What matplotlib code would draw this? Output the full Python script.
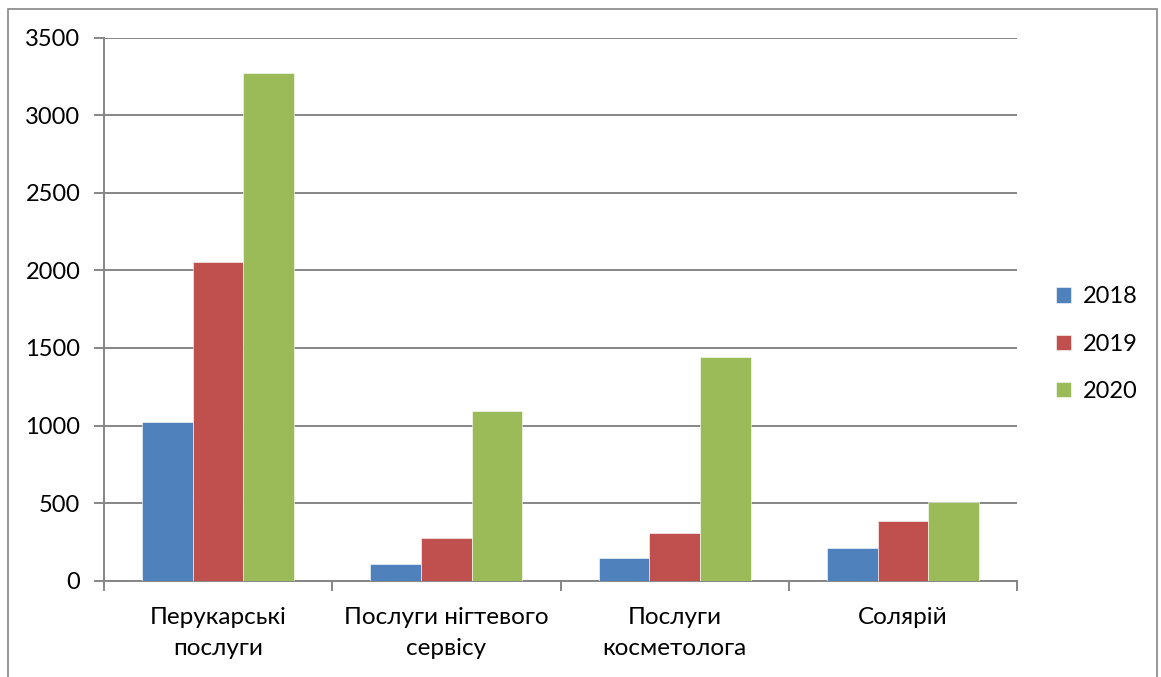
import matplotlib
matplotlib.use("Agg")
import matplotlib.pyplot as plt
from matplotlib.patches import Rectangle
import numpy as np

plt.rcParams['font.family'] = ['Lato', 'Noto Sans', 'DejaVu Sans']

categories = ["Перукарські\nпослуги", "Послуги нігтевого\nсервісу", "Послуги\nкосметолога", "Солярій"]
years = ["2018", "2019", "2020"]
values_2018 = [1026, 108, 146, 208]
values_2019 = [2056, 275, 310, 383]
values_2020 = [3275, 1095, 1439, 507]
series = [values_2018, values_2019, values_2020]
colors = ["#4F81BD", "#C0504D", "#9BBB59"]

W, H = 1161, 677
fig = plt.figure(figsize=(W / 100, H / 100), dpi=100)
ax = fig.add_axes([104 / W, 1 - 580.7 / H, (1017 - 104) / W, (580.7 - 37.7) / H])

x = np.arange(len(categories))
bw = 1 / 4.5
for i, (vals, c, lab) in enumerate(zip(series, colors, years)):
    ax.bar(x + (i - 1) * bw, vals, width=bw, color=c, label=lab,
           edgecolor="white", linewidth=0.4, zorder=3)

ax.set_xlim(-0.5, len(categories) - 0.5)
ax.set_ylim(0, 3500)
ax.set_yticks(np.arange(0, 3501, 500))
ax.yaxis.grid(True, color="#868686", linewidth=1.4, zorder=0)
ax.set_axisbelow(True)

ax.set_xticks(x)
ax.set_xticklabels(categories, fontsize=17.5, linespacing=1.6)
ax.set_xticks(np.arange(-0.5, len(categories), 1), minor=True)
ax.tick_params(axis="x", which="major", length=0, pad=19)
ax.tick_params(axis="x", which="minor", length=7, width=1.4, color="#868686", direction="out")
ax.tick_params(axis="y", length=7, width=1.4, color="#868686", labelsize=17, pad=10)

for s in ["top", "right"]:
    ax.spines[s].set_visible(False)
for s in ["left", "bottom"]:
    ax.spines[s].set_color("#868686")
    ax.spines[s].set_linewidth(1.4)

leg = fig.legend(loc="upper left", bbox_to_anchor=(1035 / W, 1 - 265 / H),
                 frameon=False, fontsize=17, handlelength=0.62, handleheight=0.62,
                 handletextpad=0.5, labelspacing=1.12)

fig.patches.append(Rectangle((8 / W, -0.05), (1157 - 8) / W, 1.05 - 9 / H,
                             transform=fig.transFigure, fill=False,
                             edgecolor="#868686", linewidth=1.2))

fig.savefig("out.png", dpi=100)
